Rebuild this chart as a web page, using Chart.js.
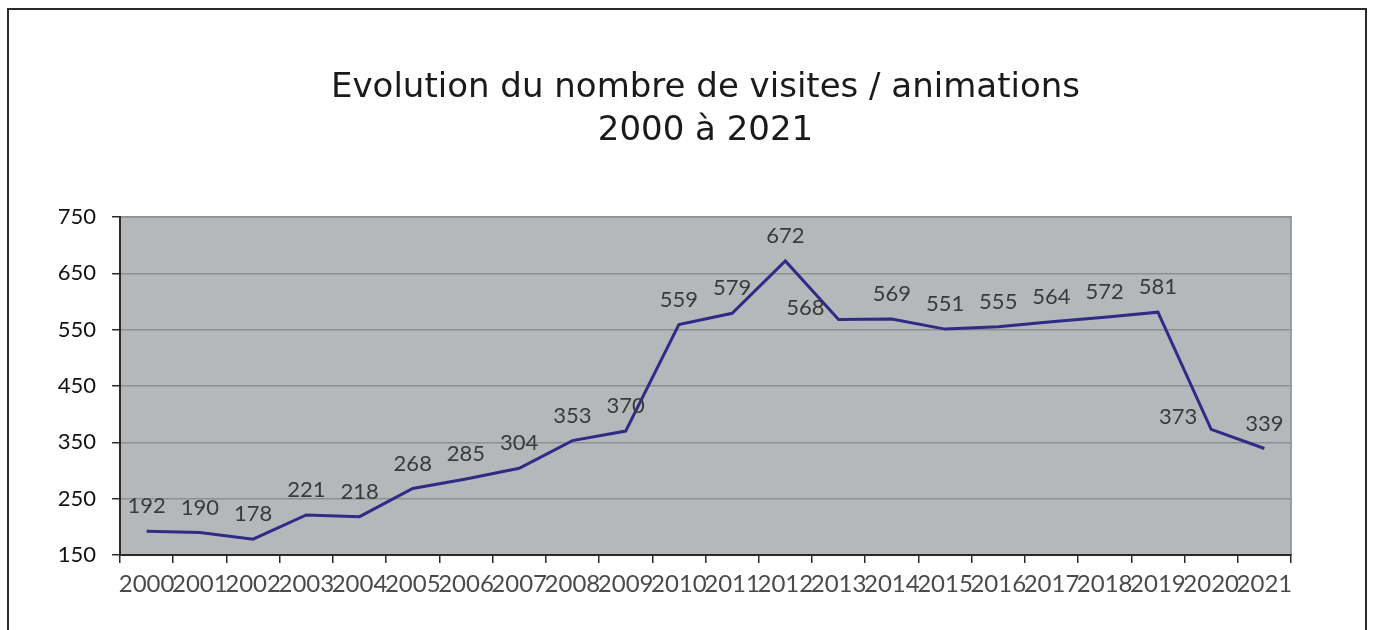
<!DOCTYPE html>
<html>
<head>
<meta charset="utf-8">
<script src="https://cdn.jsdelivr.net/npm/chart.js@4"></script>
<style>
    body { margin: 0; background: #fff; }
    #frame {
        position: absolute; left: 7px; top: 8px; width: 1360px; height: 700px;
        border: 2px solid #2a2a2a; box-sizing: border-box;
    }
    #chart { position: absolute; left: 0; top: 0; }
</style>
</head>
<body>
<div id="frame"></div>
<canvas id="chart" width="1375" height="630"></canvas>
<script>
const years = ['2000', '2001', '2002', '2003', '2004', '2005', '2006', '2007', '2008', '2009', '2010',
    '2011', '2012', '2013', '2014', '2015', '2016', '2017', '2018', '2019', '2020', '2021'];
const visits = [192, 190, 178, 221, 218, 268, 285, 304, 353, 370, 559,
    579, 672, 568, 569, 551, 555, 564, 572, 581, 373, 339];
const yTicks = [150, 250, 350, 450, 550, 650, 750];

const titleLines = ['Evolution du nombre de visites / animations', '2000 à 2021'];

// gray plot background + light border
const plotBackground = {
    id: 'plotBackground',
    beforeDraw(chart) {
        const { ctx, chartArea: a } = chart;
        ctx.save();
        ctx.fillStyle = '#b5b8bb';
        ctx.fillRect(a.left, a.top, a.right - a.left, a.bottom - a.top);
        ctx.strokeStyle = '#9a9c9f';
        ctx.lineWidth = 2;
        ctx.strokeRect(a.left, a.top, a.right - a.left, a.bottom - a.top);
        ctx.restore();
    }
};

// value labels, above the point except after a big drop (then to the left)
const valueLabels = {
    id: 'valueLabels',
    afterDatasetsDraw(chart) {
        const { ctx } = chart;
        const meta = chart.getDatasetMeta(0);
        ctx.save();
        ctx.font = '22px Lato';
        ctx.fillStyle = '#3a3a3a';
        ctx.textBaseline = 'middle';
        meta.data.forEach((pt, i) => {
            const v = visits[i];
            const prev = i > 0 ? visits[i - 1] : v;
            if (prev - v > 50) {
                ctx.textAlign = 'right';
                ctx.fillText(v, pt.x - 14, pt.y - 12);
            } else {
                ctx.textAlign = 'center';
                ctx.fillText(v, pt.x, pt.y - 25);
            }
        });
        ctx.restore();
    }
};

new Chart(document.getElementById('chart'), {
    type: 'line',
    data: {
        labels: years,
        datasets: [{
            data: visits,
            borderColor: '#2f2b86',
            borderWidth: 3,
            pointRadius: 0,
            tension: 0,
            fill: false
        }]
    },
    options: {
        responsive: false,
        animation: false,
        layout: { padding: { left: 0, right: 84, top: 0, bottom: 0 } },
        plugins: {
            legend: { display: false },
            tooltip: { enabled: false },
            title: {
                display: true,
                text: titleLines,
                fullSize: false,
                color: '#1a1a1a',
                font: { family: 'DejaVu Sans', size: 34, weight: 'normal', lineHeight: 1.25 },
                padding: { top: 67, bottom: 65 }
            }
        },
        scales: {
            x: {
                offset: true,
                grid: {
                    offset: true,
                    drawOnChartArea: false,
                    tickLength: 8,
                    tickColor: '#2a2a2a',
                    lineWidth: 1.5
                },
                border: { color: '#2a2a2a', width: 2 },
                ticks: {
                    color: '#4a4a4a',
                    font: { family: 'Lato', size: 24 },
                    padding: 7,
                    maxRotation: 0,
                    autoSkip: false
                },
                afterFit(scale) { scale.height = 75; }
            },
            y: {
                min: 150,
                max: 750,
                afterBuildTicks(scale) { scale.ticks = yTicks.map(v => ({ value: v })); },
                grid: {
                    color: '#8e8f91',
                    lineWidth: 1.5,
                    tickLength: 8,
                    tickColor: '#2a2a2a'
                },
                border: { color: '#2a2a2a', width: 2 },
                ticks: {
                    color: '#111',
                    font: { family: 'Lato', size: 22 },
                    padding: 16
                },
                afterFit(scale) { scale.width = 120; }
            }
        }
    },
    plugins: [plotBackground, valueLabels]
});
</script>
</body>
</html>
